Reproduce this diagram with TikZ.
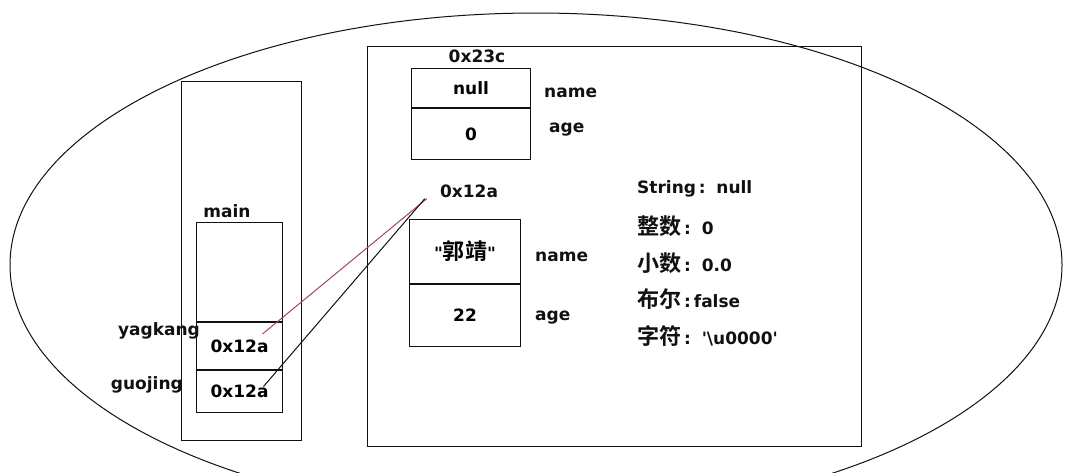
\documentclass[tikz,border=0pt]{standalone}
\usepackage{fontspec}
\setmainfont{DejaVu Sans}[Ligatures=TeXOff]
\newfontfamily\cjk{Noto Sans CJK SC}[Scale=1.3, BoldFont={Noto Sans CJK SC Bold}]
\usepackage{tikz}
\usetikzlibrary{positioning, calc}
\definecolor{jmRef}{HTML}{A3485C}
\definecolor{jmInk}{HTML}{111111}
\tikzset{
  jm-frame/.style={
    rectangle, draw=jmInk, line width=1pt, inner sep=0pt,
    anchor=north west
  },
  jm-cell/.style={
    rectangle, draw=jmInk, line width=1pt, inner sep=0pt,
    anchor=north west, font=\bfseries\fontsize{17}{20}\selectfont
  },
  jm-text/.style={
    inner sep=1pt, text=jmInk, font=\bfseries\fontsize{17}{20}\selectfont
  },
  jm-link/.style={line width=1pt, draw=jmInk},
}

\begin{document}
\begin{tikzpicture}[x=1pt, y=-1pt]
  \clip (0,0) rectangle (1065,472);
  \fill[white] (0,0) rectangle (1065,472);
  \draw[line width=1pt, jmInk] (536,265) ellipse [x radius=526pt, y radius=252pt];

  % stack
  \node[jm-frame, minimum width=120pt, minimum height=359pt]         (stack) at (181,81) {};
  \node[jm-cell, minimum width=86pt, minimum height=99pt]            (mtop) at (196,222) {};
  \node[jm-cell, below=0pt of mtop, minimum width=86pt, minimum height=47pt] (yv){0x12a};
  \node[jm-cell, below=0pt of yv, minimum width=86pt, minimum height=42pt]   (gv){\raisebox{-3pt}{0x12a}};
  \node[jm-text]                                                     (main) at (227,211) {main};
  \node[jm-text, anchor=east]                                        (yname) at (201,331) {yagkang};
  \node[jm-text, anchor=east]                                        (gname) at (184,385) {guojing};

  % heap
  \node[jm-frame, minimum width=494pt, minimum height=400pt]         (heap) at (367,46) {};
  \node[jm-cell, minimum width=119pt, minimum height=39pt]           (o1name) at (411,68) {null};
  \node[jm-cell, below=0pt of o1name, minimum width=119pt, minimum height=51pt] (o1age){\raisebox{-4pt}{0}};
  \node[jm-text, above=4pt of o1name, xshift=6pt]                    (addr1){0x23c};
  \node[jm-text, right=12pt of o1name, anchor=west, yshift=-5pt]     (o1n){name};
  \node[jm-text, right=17pt of o1age, anchor=west, yshift=4pt]       (o1a){age};

  \node[jm-cell, minimum width=111pt, minimum height=64pt]           (o2name) at (409,219) {"{\cjk 郭靖}"};
  \node[jm-cell, below=0pt of o2name, minimum width=111pt, minimum height=62pt] (o2age){22};
  \node[jm-text]                                                     (addr2) at (469,191) {0x12a};
  \node[jm-text, right=13pt of o2name, anchor=west, yshift=-5pt]     (o2n){name};
  \node[jm-text, right=13pt of o2age, anchor=west, yshift=-2pt]      (o2a){age};

  % default values
  \node[jm-text, anchor=west] (dstr) at (636,189) {String\,:\, null};
  \node[jm-text, anchor=west] (dint) at (636,226) {{\cjk 整数}\,:\, 0};
  \node[jm-text, anchor=west] (dflt) at (636,263) {{\cjk 小数}\,:\, 0.0};
  \node[jm-text, anchor=west] (dbol) at (636,299) {{\cjk 布尔}\,:\,false};
  \node[jm-text, anchor=west] (dchr) at (636,336) {{\cjk 字符}\,:\, '\textbackslash u0000'};

  % references
  \draw[jm-link, draw=jmRef] ($(yv.center)+(23,-12)$) -- ([xshift=-12pt]addr2.south west);
  \draw[jm-link] ($(gv.center)+(24,-5)$) -- ([xshift=-14pt]addr2.south west);
\end{tikzpicture}
\end{document}
